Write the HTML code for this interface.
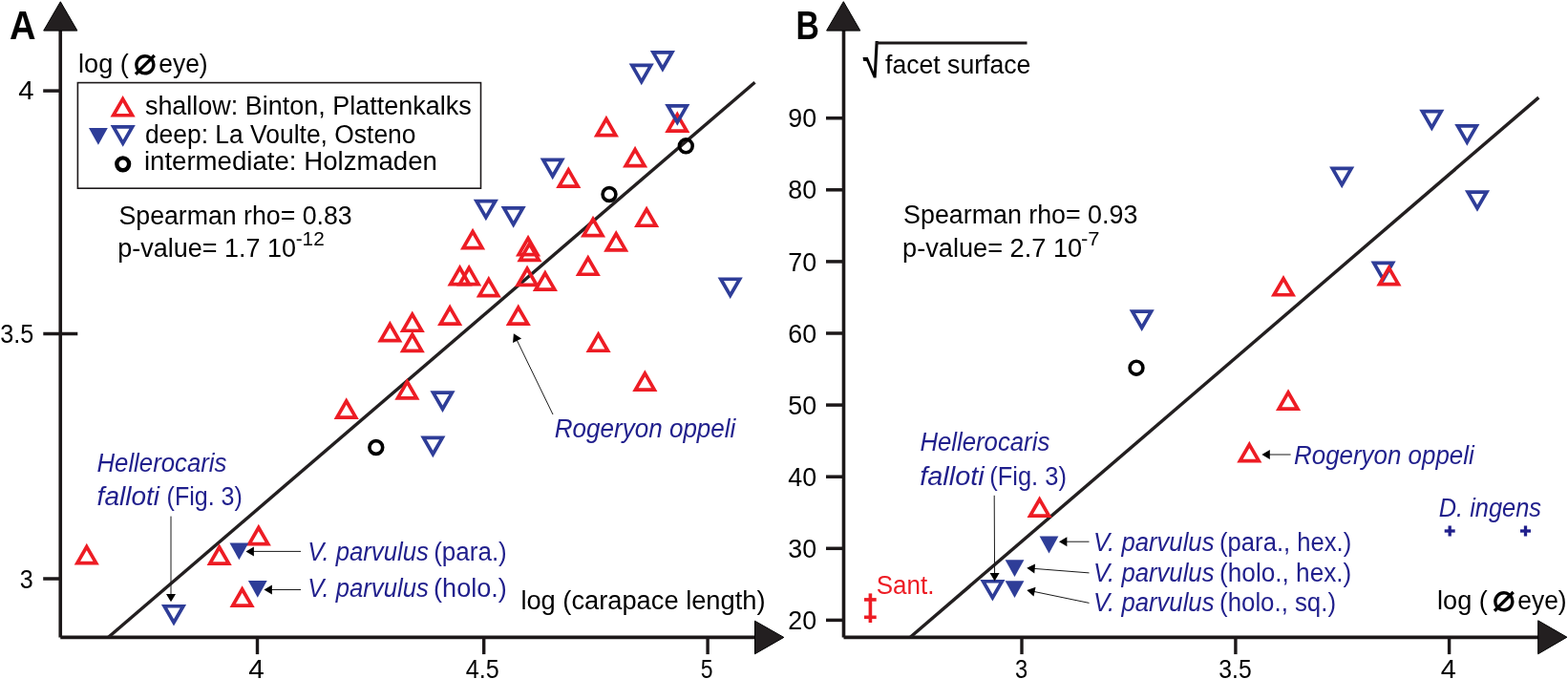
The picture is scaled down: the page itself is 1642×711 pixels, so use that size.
<!DOCTYPE html>
<html><head><meta charset="utf-8"><style>
html,body{margin:0;padding:0;background:#fff;overflow:hidden;}
svg{display:block;}
</style></head><body>
<svg width="1642" height="711" viewBox="0 0 1642 711">
<rect width="1642" height="711" fill="#fff"/>
<line x1="63.25" y1="30.00" x2="63.25" y2="667.50" stroke="#1c1819" stroke-width="3.60"/>
<line x1="63.25" y1="667.40" x2="792.00" y2="667.40" stroke="#1c1819" stroke-width="3.60"/>
<polygon points="63.3,1.8 80.9,32.1 45.7,32.1" fill="#231f20" stroke="#000" stroke-width="1"/>
<polygon points="790.5,650.2 820.8,667.4 790.5,684.8" fill="#231f20" stroke="#000" stroke-width="1"/>
<line x1="45.20" y1="95.10" x2="63.25" y2="95.10" stroke="#1c1819" stroke-width="3.50"/>
<line x1="45.30" y1="349.60" x2="81.30" y2="349.60" stroke="#1c1819" stroke-width="3.50"/>
<line x1="45.20" y1="606.00" x2="63.25" y2="606.00" stroke="#1c1819" stroke-width="3.50"/>
<line x1="269.50" y1="667.40" x2="269.50" y2="685.10" stroke="#1c1819" stroke-width="3.40"/>
<line x1="506.70" y1="667.40" x2="506.70" y2="685.10" stroke="#1c1819" stroke-width="3.40"/>
<line x1="741.10" y1="667.40" x2="741.10" y2="685.10" stroke="#1c1819" stroke-width="3.40"/>
<line x1="113.80" y1="667.00" x2="790.50" y2="86.20" stroke="#231f20" stroke-width="3.45"/>
<polygon points="90.80,572.55 100.67,589.65 80.92,589.65" fill="none" stroke="#ed1c24" stroke-width="3.70"/>
<polygon points="229.65,573.05 239.53,590.15 219.78,590.15" fill="none" stroke="#ed1c24" stroke-width="3.70"/>
<polygon points="253.60,617.05 263.48,634.15 243.73,634.15" fill="none" stroke="#ed1c24" stroke-width="3.70"/>
<polygon points="270.80,552.55 280.68,569.65 260.93,569.65" fill="none" stroke="#ed1c24" stroke-width="3.70"/>
<polygon points="362.70,420.05 372.58,437.15 352.83,437.15" fill="none" stroke="#ed1c24" stroke-width="3.70"/>
<polygon points="426.40,399.75 436.27,416.85 416.52,416.85" fill="none" stroke="#ed1c24" stroke-width="3.70"/>
<polygon points="408.35,339.55 418.23,356.65 398.48,356.65" fill="none" stroke="#ed1c24" stroke-width="3.70"/>
<polygon points="431.75,329.15 441.62,346.25 421.88,346.25" fill="none" stroke="#ed1c24" stroke-width="3.70"/>
<polygon points="431.75,350.25 441.62,367.35 421.88,367.35" fill="none" stroke="#ed1c24" stroke-width="3.70"/>
<polygon points="471.15,322.05 481.02,339.15 461.27,339.15" fill="none" stroke="#ed1c24" stroke-width="3.70"/>
<polygon points="481.55,280.45 491.43,297.55 471.68,297.55" fill="none" stroke="#ed1c24" stroke-width="3.70"/>
<polygon points="491.15,280.45 501.02,297.55 481.27,297.55" fill="none" stroke="#ed1c24" stroke-width="3.70"/>
<polygon points="511.80,292.55 521.67,309.65 501.93,309.65" fill="none" stroke="#ed1c24" stroke-width="3.70"/>
<polygon points="495.05,242.45 504.93,259.55 485.18,259.55" fill="none" stroke="#ed1c24" stroke-width="3.70"/>
<polygon points="553.05,249.45 562.92,266.55 543.17,266.55" fill="none" stroke="#ed1c24" stroke-width="3.70"/>
<polygon points="554.45,255.35 564.33,272.45 544.58,272.45" fill="none" stroke="#ed1c24" stroke-width="3.70"/>
<polygon points="552.05,281.25 561.92,298.35 542.17,298.35" fill="none" stroke="#ed1c24" stroke-width="3.70"/>
<polygon points="570.90,286.05 580.77,303.15 561.02,303.15" fill="none" stroke="#ed1c24" stroke-width="3.70"/>
<polygon points="542.80,322.05 552.67,339.15 532.92,339.15" fill="none" stroke="#ed1c24" stroke-width="3.70"/>
<polygon points="595.30,177.95 605.17,195.05 585.42,195.05" fill="none" stroke="#ed1c24" stroke-width="3.70"/>
<polygon points="621.00,229.55 630.88,246.65 611.12,246.65" fill="none" stroke="#ed1c24" stroke-width="3.70"/>
<polygon points="645.20,244.75 655.08,261.85 635.33,261.85" fill="none" stroke="#ed1c24" stroke-width="3.70"/>
<polygon points="615.80,270.15 625.67,287.25 605.92,287.25" fill="none" stroke="#ed1c24" stroke-width="3.70"/>
<polygon points="626.60,350.15 636.47,367.25 616.72,367.25" fill="none" stroke="#ed1c24" stroke-width="3.70"/>
<polygon points="634.90,124.55 644.78,141.65 625.03,141.65" fill="none" stroke="#ed1c24" stroke-width="3.70"/>
<polygon points="665.10,156.55 674.97,173.65 655.22,173.65" fill="none" stroke="#ed1c24" stroke-width="3.70"/>
<polygon points="677.10,219.15 686.98,236.25 667.23,236.25" fill="none" stroke="#ed1c24" stroke-width="3.70"/>
<polygon points="675.35,390.95 685.22,408.05 665.47,408.05" fill="none" stroke="#ed1c24" stroke-width="3.70"/>
<polygon points="709.30,120.05 719.17,137.15 699.42,137.15" fill="none" stroke="#ed1c24" stroke-width="3.70"/>
<polygon points="182.00,651.85 191.88,634.75 172.12,634.75" fill="none" stroke="#2e3d98" stroke-width="3.70"/>
<polygon points="463.50,428.25 473.38,411.15 453.62,411.15" fill="none" stroke="#2e3d98" stroke-width="3.70"/>
<polygon points="453.35,475.45 463.23,458.35 443.48,458.35" fill="none" stroke="#2e3d98" stroke-width="3.70"/>
<polygon points="508.85,227.65 518.73,210.55 498.98,210.55" fill="none" stroke="#2e3d98" stroke-width="3.70"/>
<polygon points="537.65,235.05 547.52,217.95 527.77,217.95" fill="none" stroke="#2e3d98" stroke-width="3.70"/>
<polygon points="578.70,184.45 588.58,167.35 568.83,167.35" fill="none" stroke="#2e3d98" stroke-width="3.70"/>
<polygon points="671.75,85.55 681.62,68.45 661.88,68.45" fill="none" stroke="#2e3d98" stroke-width="3.70"/>
<polygon points="693.90,71.95 703.78,54.85 684.03,54.85" fill="none" stroke="#2e3d98" stroke-width="3.70"/>
<polygon points="709.30,128.05 719.17,110.95 699.42,110.95" fill="none" stroke="#2e3d98" stroke-width="3.70"/>
<polygon points="764.70,309.35 774.58,292.25 754.83,292.25" fill="none" stroke="#2e3d98" stroke-width="3.70"/>
<polygon points="240.50,568.40 260.30,568.40 250.40,586.20" fill="#2e3d98"/>
<polygon points="259.90,608.00 279.70,608.00 269.80,625.80" fill="#2e3d98"/>
<circle cx="393.80" cy="468.50" r="6.90" fill="none" stroke="#000" stroke-width="3.60"/>
<circle cx="638.00" cy="203.50" r="6.90" fill="none" stroke="#000" stroke-width="3.60"/>
<circle cx="718.30" cy="152.80" r="6.90" fill="none" stroke="#000" stroke-width="3.60"/>
<rect x="81.4" y="86.6" width="422.1" height="110.6" fill="none" stroke="#1c1819" stroke-width="1.6"/>
<polygon points="128.60,103.65 138.47,120.75 118.72,120.75" fill="none" stroke="#ed1c24" stroke-width="3.70"/>
<polygon points="128.70,150.05 138.57,132.95 118.82,132.95" fill="none" stroke="#2e3d98" stroke-width="3.70"/>
<polygon points="93.00,134.10 112.80,134.10 102.90,151.80" fill="#2e3d98"/>
<circle cx="128.70" cy="171.80" r="6.40" fill="none" stroke="#000" stroke-width="4.40"/>
<text x="151.9" y="120.2" font-size="27.0" fill="#000" font-family="'Liberation Sans', sans-serif" textLength="341.8" lengthAdjust="spacingAndGlyphs">shallow: Binton, Plattenkalks</text>
<text x="151.9" y="149.5" font-size="27.0" fill="#000" font-family="'Liberation Sans', sans-serif" textLength="283.6" lengthAdjust="spacingAndGlyphs">deep: La Voulte, Osteno</text>
<text x="150.9" y="178.2" font-size="27.0" fill="#000" font-family="'Liberation Sans', sans-serif" textLength="307.0" lengthAdjust="spacingAndGlyphs">intermediate: Holzmaden</text>
<text x="10.0" y="41.1" font-size="43.0" fill="#000" font-family="'Liberation Sans', sans-serif" font-weight="bold" textLength="27.5" lengthAdjust="spacingAndGlyphs">A</text>
<text x="82.1" y="76.1" font-size="27.0" fill="#000" font-family="'Liberation Sans', sans-serif" textLength="52.8" lengthAdjust="spacingAndGlyphs">log (</text>
<text x="166.3" y="76.1" font-size="27.0" fill="#000" font-family="'Liberation Sans', sans-serif" textLength="51.3" lengthAdjust="spacingAndGlyphs">eye)</text>
<text x="19.2" y="103.9" font-size="27.0" fill="#000" font-family="'Liberation Sans', sans-serif" textLength="16.3" lengthAdjust="spacingAndGlyphs">4</text>
<text x="0.2" y="359.1" font-size="27.0" fill="#000" font-family="'Liberation Sans', sans-serif" textLength="35.1" lengthAdjust="spacingAndGlyphs">3.5</text>
<text x="20.8" y="616.1" font-size="27.0" fill="#000" font-family="'Liberation Sans', sans-serif" textLength="14.0" lengthAdjust="spacingAndGlyphs">3</text>
<text x="260.3" y="710.3" font-size="27.0" fill="#000" font-family="'Liberation Sans', sans-serif" textLength="16.5" lengthAdjust="spacingAndGlyphs">4</text>
<text x="487.7" y="710.3" font-size="27.0" fill="#000" font-family="'Liberation Sans', sans-serif" textLength="35.0" lengthAdjust="spacingAndGlyphs">4.5</text>
<text x="733.8" y="710.3" font-size="27.0" fill="#000" font-family="'Liberation Sans', sans-serif" textLength="12.8" lengthAdjust="spacingAndGlyphs">5</text>
<text x="124.5" y="234.5" font-size="27.0" fill="#000" font-family="'Liberation Sans', sans-serif" textLength="244.2" lengthAdjust="spacingAndGlyphs">Spearman rho= 0.83</text>
<text x="123.3" y="269.1" font-size="27.0" fill="#000" font-family="'Liberation Sans', sans-serif" textLength="186.6" lengthAdjust="spacingAndGlyphs">p-value= 1.7 10</text>
<text x="309.7" y="256.6" font-size="19.5" fill="#000" font-family="'Liberation Sans', sans-serif" textLength="30.0" lengthAdjust="spacingAndGlyphs">-12</text>
<text x="101.5" y="494.1" font-size="27.0" fill="#201f8c" font-family="'Liberation Sans', sans-serif" font-style="italic" textLength="135.9" lengthAdjust="spacingAndGlyphs">Hellerocaris</text>
<text x="101.6" y="528.8" font-size="27.0" fill="#201f8c" font-family="'Liberation Sans', sans-serif" font-style="italic" textLength="65.4" lengthAdjust="spacingAndGlyphs">falloti</text>
<text x="174.6" y="528.8" font-size="27.0" fill="#201f8c" font-family="'Liberation Sans', sans-serif" textLength="79.2" lengthAdjust="spacingAndGlyphs">(Fig. 3)</text>
<line x1="179.00" y1="540.60" x2="179.00" y2="622.90" stroke="#1a1a1a" stroke-width="1.0"/>
<polygon points="179.00,630.30 174.00,621.90 184.00,621.90" fill="#000"/>
<text x="322.3" y="586.8" font-size="27.0" fill="#201f8c" font-family="'Liberation Sans', sans-serif" font-style="italic" textLength="126.5" lengthAdjust="spacingAndGlyphs">V. parvulus</text>
<text x="454.2" y="586.8" font-size="27.0" fill="#201f8c" font-family="'Liberation Sans', sans-serif" textLength="76.6" lengthAdjust="spacingAndGlyphs">(para.)</text>
<text x="322.3" y="625.0" font-size="27.0" fill="#201f8c" font-family="'Liberation Sans', sans-serif" font-style="italic" textLength="126.5" lengthAdjust="spacingAndGlyphs">V. parvulus</text>
<text x="454.1" y="625.0" font-size="27.0" fill="#201f8c" font-family="'Liberation Sans', sans-serif" textLength="76.7" lengthAdjust="spacingAndGlyphs">(holo.)</text>
<line x1="315.00" y1="577.40" x2="264.90" y2="577.40" stroke="#1a1a1a" stroke-width="1.0"/>
<polygon points="257.50,577.40 265.90,572.40 265.90,582.40" fill="#000"/>
<line x1="315.00" y1="617.50" x2="283.90" y2="617.50" stroke="#1a1a1a" stroke-width="1.0"/>
<polygon points="276.50,617.50 284.90,612.50 284.90,622.50" fill="#000"/>
<text x="580.8" y="457.6" font-size="27.0" fill="#201f8c" font-family="'Liberation Sans', sans-serif" font-style="italic" textLength="189.6" lengthAdjust="spacingAndGlyphs">Rogeryon oppeli</text>
<line x1="579.00" y1="434.00" x2="541.13" y2="355.86" stroke="#1a1a1a" stroke-width="1.0"/>
<polygon points="537.90,349.20 546.06,354.58 537.06,358.94" fill="#000"/>
<text x="545.4" y="637.8" font-size="27.0" fill="#000" font-family="'Liberation Sans', sans-serif" textLength="256.1" lengthAdjust="spacingAndGlyphs">log (carapace length)</text>
<line x1="883.50" y1="30.00" x2="883.50" y2="667.50" stroke="#1c1819" stroke-width="3.60"/>
<line x1="883.50" y1="667.40" x2="1612.00" y2="667.40" stroke="#1c1819" stroke-width="3.60"/>
<polygon points="883.3,1.7 900.8,32.1 865.6,32.1" fill="#231f20" stroke="#000" stroke-width="1"/>
<polygon points="1610.7,649.8 1640.9,667.2 1610.7,684.8" fill="#231f20" stroke="#000" stroke-width="1"/>
<line x1="865.00" y1="123.70" x2="883.50" y2="123.70" stroke="#1c1819" stroke-width="3.50"/>
<text x="825.3" y="133.3" font-size="27.0" fill="#000" font-family="'Liberation Sans', sans-serif" textLength="29.8" lengthAdjust="spacingAndGlyphs">90</text>
<line x1="865.00" y1="198.80" x2="883.50" y2="198.80" stroke="#1c1819" stroke-width="3.50"/>
<text x="825.3" y="208.4" font-size="27.0" fill="#000" font-family="'Liberation Sans', sans-serif" textLength="29.8" lengthAdjust="spacingAndGlyphs">80</text>
<line x1="865.00" y1="273.90" x2="883.50" y2="273.90" stroke="#1c1819" stroke-width="3.50"/>
<text x="825.3" y="283.5" font-size="27.0" fill="#000" font-family="'Liberation Sans', sans-serif" textLength="29.8" lengthAdjust="spacingAndGlyphs">70</text>
<line x1="865.00" y1="349.00" x2="883.50" y2="349.00" stroke="#1c1819" stroke-width="3.50"/>
<text x="825.3" y="358.6" font-size="27.0" fill="#000" font-family="'Liberation Sans', sans-serif" textLength="29.8" lengthAdjust="spacingAndGlyphs">60</text>
<line x1="865.00" y1="424.10" x2="883.50" y2="424.10" stroke="#1c1819" stroke-width="3.50"/>
<text x="825.3" y="433.7" font-size="27.0" fill="#000" font-family="'Liberation Sans', sans-serif" textLength="29.8" lengthAdjust="spacingAndGlyphs">50</text>
<line x1="865.00" y1="499.20" x2="883.50" y2="499.20" stroke="#1c1819" stroke-width="3.50"/>
<text x="825.3" y="508.8" font-size="27.0" fill="#000" font-family="'Liberation Sans', sans-serif" textLength="29.8" lengthAdjust="spacingAndGlyphs">40</text>
<line x1="865.00" y1="574.30" x2="883.50" y2="574.30" stroke="#1c1819" stroke-width="3.50"/>
<text x="825.3" y="583.9" font-size="27.0" fill="#000" font-family="'Liberation Sans', sans-serif" textLength="29.8" lengthAdjust="spacingAndGlyphs">30</text>
<line x1="865.00" y1="649.40" x2="883.50" y2="649.40" stroke="#1c1819" stroke-width="3.50"/>
<text x="825.3" y="659.0" font-size="27.0" fill="#000" font-family="'Liberation Sans', sans-serif" textLength="29.8" lengthAdjust="spacingAndGlyphs">20</text>
<line x1="1070.00" y1="667.40" x2="1070.00" y2="685.10" stroke="#1c1819" stroke-width="3.40"/>
<line x1="1293.90" y1="667.40" x2="1293.90" y2="685.10" stroke="#1c1819" stroke-width="3.40"/>
<line x1="1517.60" y1="667.40" x2="1517.60" y2="685.10" stroke="#1c1819" stroke-width="3.40"/>
<text x="1063.1" y="709.8" font-size="27.0" fill="#000" font-family="'Liberation Sans', sans-serif" textLength="13.2" lengthAdjust="spacingAndGlyphs">3</text>
<text x="1276.3" y="709.6" font-size="27.0" fill="#000" font-family="'Liberation Sans', sans-serif" textLength="34.4" lengthAdjust="spacingAndGlyphs">3.5</text>
<text x="1508.7" y="709.6" font-size="27.0" fill="#000" font-family="'Liberation Sans', sans-serif" textLength="16.1" lengthAdjust="spacingAndGlyphs">4</text>
<line x1="953.50" y1="667.00" x2="1611.30" y2="102.10" stroke="#231f20" stroke-width="3.45"/>
<polygon points="1039.40,625.85 1049.28,608.75 1029.53,608.75" fill="none" stroke="#2e3d98" stroke-width="3.70"/>
<polygon points="1195.70,343.25 1205.58,326.15 1185.83,326.15" fill="none" stroke="#2e3d98" stroke-width="3.70"/>
<polygon points="1405.20,193.45 1415.08,176.35 1395.33,176.35" fill="none" stroke="#2e3d98" stroke-width="3.70"/>
<polygon points="1499.35,133.75 1509.22,116.65 1489.47,116.65" fill="none" stroke="#2e3d98" stroke-width="3.70"/>
<polygon points="1536.35,148.95 1546.22,131.85 1526.47,131.85" fill="none" stroke="#2e3d98" stroke-width="3.70"/>
<polygon points="1547.00,218.15 1556.88,201.05 1537.12,201.05" fill="none" stroke="#2e3d98" stroke-width="3.70"/>
<polygon points="1448.55,292.45 1458.43,275.35 1438.68,275.35" fill="none" stroke="#2e3d98" stroke-width="3.70"/>
<polygon points="1088.60,522.95 1098.47,540.05 1078.72,540.05" fill="none" stroke="#ed1c24" stroke-width="3.70"/>
<polygon points="1308.35,465.55 1318.22,482.65 1298.47,482.65" fill="none" stroke="#ed1c24" stroke-width="3.70"/>
<polygon points="1349.05,410.95 1358.93,428.05 1339.18,428.05" fill="none" stroke="#ed1c24" stroke-width="3.70"/>
<polygon points="1344.00,291.65 1353.88,308.75 1334.12,308.75" fill="none" stroke="#ed1c24" stroke-width="3.70"/>
<polygon points="1454.45,280.45 1464.32,297.55 1444.57,297.55" fill="none" stroke="#ed1c24" stroke-width="3.70"/>
<polygon points="1088.60,561.60 1108.40,561.60 1098.50,579.40" fill="#2e3d98"/>
<polygon points="1052.60,586.20 1072.40,586.20 1062.50,604.00" fill="#2e3d98"/>
<polygon points="1052.60,608.30 1072.40,608.30 1062.50,626.10" fill="#2e3d98"/>
<circle cx="1190.00" cy="385.20" r="6.90" fill="none" stroke="#000" stroke-width="3.60"/>
<text x="833.5" y="41.2" font-size="43.0" fill="#000" font-family="'Liberation Sans', sans-serif" font-weight="bold" textLength="24.4" lengthAdjust="spacingAndGlyphs">B</text>
<text transform="matrix(0.72,0,0.166,1,907.05,81)" x="0" y="0" font-size="47.9" font-weight="bold" font-family="Liberation Sans, sans-serif" fill="#000">&#8730;</text>
<line x1="917.00" y1="45.00" x2="1075.50" y2="45.00" stroke="#1c1819" stroke-width="3.20"/>
<text x="927.0" y="76.9" font-size="27.0" fill="#000" font-family="'Liberation Sans', sans-serif" textLength="152.4" lengthAdjust="spacingAndGlyphs">facet surface</text>
<text x="946.1" y="234.3" font-size="27.0" fill="#000" font-family="'Liberation Sans', sans-serif" textLength="245.2" lengthAdjust="spacingAndGlyphs">Spearman rho= 0.93</text>
<text x="945.1" y="269.1" font-size="27.0" fill="#000" font-family="'Liberation Sans', sans-serif" textLength="188.0" lengthAdjust="spacingAndGlyphs">p-value= 2.7 10</text>
<text x="1132.0" y="256.6" font-size="19.5" fill="#000" font-family="'Liberation Sans', sans-serif" textLength="19.5" lengthAdjust="spacingAndGlyphs">-7</text>
<text x="963.4" y="471.8" font-size="27.0" fill="#201f8c" font-family="'Liberation Sans', sans-serif" font-style="italic" textLength="135.9" lengthAdjust="spacingAndGlyphs">Hellerocaris</text>
<text x="963.3" y="507.5" font-size="27.0" fill="#201f8c" font-family="'Liberation Sans', sans-serif" font-style="italic" textLength="67.4" lengthAdjust="spacingAndGlyphs">falloti</text>
<text x="1036.3" y="507.5" font-size="27.0" fill="#201f8c" font-family="'Liberation Sans', sans-serif" textLength="80.6" lengthAdjust="spacingAndGlyphs">(Fig. 3)</text>
<line x1="1041.20" y1="518.80" x2="1041.57" y2="601.10" stroke="#1a1a1a" stroke-width="1.0"/>
<polygon points="1041.60,608.50 1036.56,600.12 1046.56,600.08" fill="#000"/>
<text x="1355.0" y="485.9" font-size="27.0" fill="#201f8c" font-family="'Liberation Sans', sans-serif" font-style="italic" textLength="188.8" lengthAdjust="spacingAndGlyphs">Rogeryon oppeli</text>
<line x1="1351.60" y1="476.00" x2="1328.80" y2="476.00" stroke="#1a1a1a" stroke-width="1.0"/>
<polygon points="1321.40,476.00 1329.80,471.00 1329.80,481.00" fill="#000"/>
<text x="1506.7" y="540.5" font-size="27.0" fill="#201f8c" font-family="'Liberation Sans', sans-serif" font-style="italic" textLength="107.4" lengthAdjust="spacingAndGlyphs">D. ingens</text>
<line x1="1512.70" y1="556.00" x2="1523.70" y2="556.00" stroke="#201f8c" stroke-width="3.30"/>
<line x1="1518.20" y1="550.50" x2="1518.20" y2="561.50" stroke="#201f8c" stroke-width="3.30"/>
<line x1="1592.00" y1="556.00" x2="1603.00" y2="556.00" stroke="#201f8c" stroke-width="3.30"/>
<line x1="1597.50" y1="550.50" x2="1597.50" y2="561.50" stroke="#201f8c" stroke-width="3.30"/>
<text x="917.7" y="621.7" font-size="27.0" fill="#ed1c24" font-family="'Liberation Sans', sans-serif" textLength="60.7" lengthAdjust="spacingAndGlyphs">Sant.</text>
<line x1="911.40" y1="621.40" x2="911.40" y2="652.00" stroke="#ed1c24" stroke-width="3.60"/>
<line x1="905.00" y1="627.90" x2="917.70" y2="627.90" stroke="#ed1c24" stroke-width="3.60"/>
<line x1="905.00" y1="646.30" x2="917.70" y2="646.30" stroke="#ed1c24" stroke-width="3.60"/>
<text x="1144.9" y="576.8" font-size="27.0" fill="#201f8c" font-family="'Liberation Sans', sans-serif" font-style="italic" textLength="126.6" lengthAdjust="spacingAndGlyphs">V. parvulus</text>
<text x="1277.1" y="576.8" font-size="27.0" fill="#201f8c" font-family="'Liberation Sans', sans-serif" textLength="138.1" lengthAdjust="spacingAndGlyphs">(para., hex.)</text>
<text x="1144.9" y="608.5" font-size="27.0" fill="#201f8c" font-family="'Liberation Sans', sans-serif" font-style="italic" textLength="126.6" lengthAdjust="spacingAndGlyphs">V. parvulus</text>
<text x="1277.1" y="608.5" font-size="27.0" fill="#201f8c" font-family="'Liberation Sans', sans-serif" textLength="138.2" lengthAdjust="spacingAndGlyphs">(holo., hex.)</text>
<text x="1144.9" y="640.0" font-size="27.0" fill="#201f8c" font-family="'Liberation Sans', sans-serif" font-style="italic" textLength="126.6" lengthAdjust="spacingAndGlyphs">V. parvulus</text>
<text x="1277.1" y="640.0" font-size="27.0" fill="#201f8c" font-family="'Liberation Sans', sans-serif" textLength="121.9" lengthAdjust="spacingAndGlyphs">(holo., sq.)</text>
<line x1="1140.50" y1="567.20" x2="1116.40" y2="567.20" stroke="#1a1a1a" stroke-width="1.0"/>
<polygon points="1109.00,567.20 1117.40,562.20 1117.40,572.20" fill="#000"/>
<line x1="1140.50" y1="599.90" x2="1082.68" y2="595.38" stroke="#1a1a1a" stroke-width="1.0"/>
<polygon points="1075.30,594.80 1084.06,590.47 1083.28,600.44" fill="#000"/>
<line x1="1140.50" y1="631.40" x2="1082.55" y2="619.40" stroke="#1a1a1a" stroke-width="1.0"/>
<polygon points="1075.30,617.90 1084.54,614.71 1082.51,624.50" fill="#000"/>
<text x="1505.1" y="637.9" font-size="27.0" fill="#000" font-family="'Liberation Sans', sans-serif" textLength="52.8" lengthAdjust="spacingAndGlyphs">log (</text>
<text x="1589.3" y="637.9" font-size="27.0" fill="#000" font-family="'Liberation Sans', sans-serif" textLength="51.3" lengthAdjust="spacingAndGlyphs">eye)</text>
<text x="139.6" y="78.0" font-size="41" font-weight="bold" font-family="Liberation Sans, DejaVu Sans, sans-serif" fill="#000">&#8960;</text>
<text x="1562.6" y="639.8" font-size="41" font-weight="bold" font-family="Liberation Sans, DejaVu Sans, sans-serif" fill="#000">&#8960;</text>
</svg>
</body></html>
